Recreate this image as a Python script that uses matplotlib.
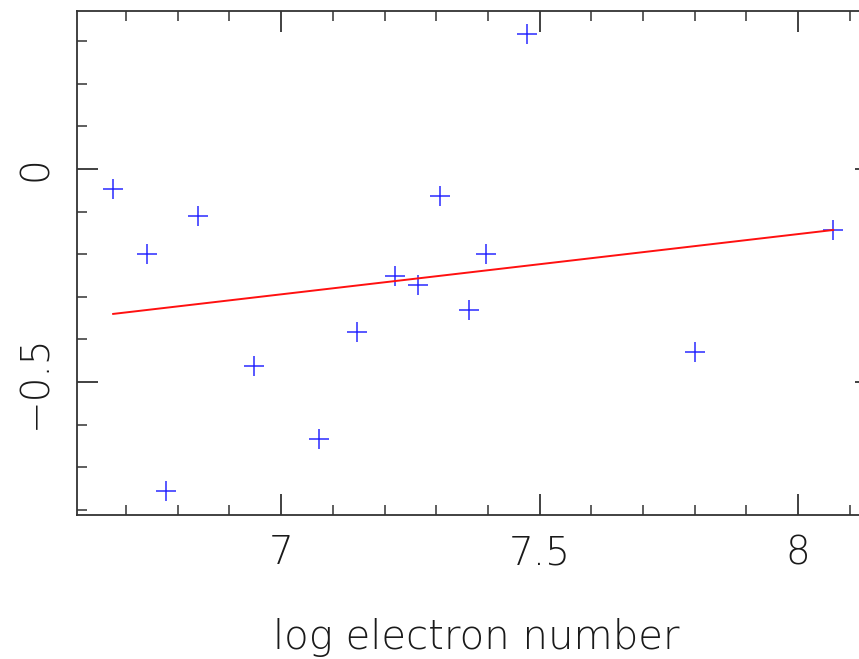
import matplotlib.pyplot as plt
from matplotlib.ticker import MultipleLocator

# data
log_ne = [6.675, 6.741, 6.778, 6.839, 6.948, 7.073, 7.147, 7.221,
          7.265, 7.308, 7.364, 7.397, 7.476, 7.801, 8.068]
resid = [-0.047, -0.200, -0.756, -0.110, -0.462, -0.634, -0.383, -0.251,
         -0.272, -0.063, -0.331, -0.200, 0.317, -0.430, -0.143]
fit_x = [6.675, 8.068]
fit_y = [-0.340, -0.143]

x_ticks = [7, 7.5, 8]
x_ticklabels = ['7', '7.5', '8']
y_ticks = [-0.5, 0]
y_ticklabels = ['\u22120.5', '0']

plt.rcParams['font.family'] = ['DejaVu Sans']
ink = '#333333'
txt = '#1a1a1a'

fig = plt.figure(figsize=(8.59, 6.59), dpi=100)
ax = fig.add_axes([0.0896, 0.2185, 0.9297, 0.7648])

ax.plot(log_ne, resid, linestyle='none', marker='+', markersize=14,
        markeredgewidth=1.1, color='#2a2aff')
ax.plot(fit_x, fit_y, color='#ff1010', linewidth=1.4)

ax.set_xlim(6.605, 8.15)
ax.set_ylim(-0.812, 0.371)

ax.xaxis.set_minor_locator(MultipleLocator(0.1))
ax.yaxis.set_minor_locator(MultipleLocator(0.1))
ax.set_xticks(x_ticks)
ax.set_xticklabels(x_ticklabels)
ax.set_yticks(y_ticks)
ax.set_yticklabels(y_ticklabels, rotation=90, va='center')

ax.tick_params(which='both', direction='in', top=True, right=True,
               color=ink, labelcolor=txt, labelsize=28)
ax.tick_params(which='major', length=15, width=1.3)
ax.tick_params(which='minor', length=7, width=1.1)
ax.tick_params(axis='x', pad=14)
ax.tick_params(axis='y', pad=16)

for s in ax.spines.values():
    s.set_color(ink)
    s.set_linewidth(1.3)

for lbl in ax.get_xticklabels() + ax.get_yticklabels():
    lbl.set_fontweight(200)

ax.set_xlabel('log electron number', fontsize=29, color=txt,
              fontweight=200, labelpad=33)

fig.savefig('out.png', dpi=100)
